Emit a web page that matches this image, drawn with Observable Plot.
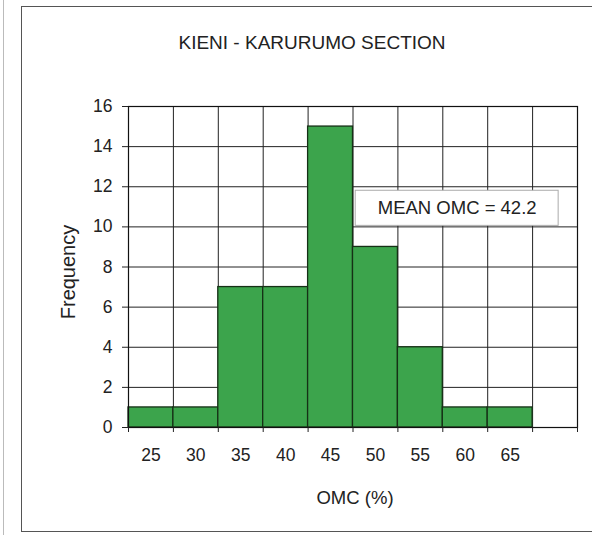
<!DOCTYPE html>
<html>
<head>
<meta charset="utf-8">
<script src="https://cdn.jsdelivr.net/npm/d3@7"></script>
<script src="https://cdn.jsdelivr.net/npm/@observablehq/plot@0.6"></script>
<style>
  html, body { margin: 0; padding: 0; background: white; }
  #wrap { position: relative; width: 592px; height: 535px; overflow: hidden; background: white; }
  #outer { position: absolute; left: 21px; top: 6px; width: 640px; height: 526px; border: 1.5px solid #555; box-sizing: border-box; pointer-events: none; }
  #edge { position: absolute; left: 3px; top: 0; width: 1px; height: 535px; background: #bbb; }
</style>
</head>
<body>
<div id="wrap"><div id="edge"></div><div id="outer"></div></div>
<script>
// Data
const binCenters = [25, 30, 35, 40, 45, 50, 55, 60, 65];
const frequencies = [1, 1, 7, 7, 15, 9, 4, 1, 1];
const binWidth = 5;
const binEdges = [22.5, 27.5, 32.5, 37.5, 42.5, 47.5, 52.5, 57.5, 62.5, 67.5, 72.5];
const yTicks = [0, 2, 4, 6, 8, 10, 12, 14, 16];
const xTickLabels = [25, 30, 35, 40, 45, 50, 55, 60, 65];
const meanOMC = 42.2;
const titleText = "KIENI - KARURUMO SECTION";
const xLabel = "OMC (%)";
const yLabel = "Frequency";

const bins = binCenters.map((c, i) => ({x1: c - binWidth / 2, x2: c + binWidth / 2, count: frequencies[i]}));

// annotation box (data coordinates)
const box = [{x1: 47.8, x2: 70.4, y1: 10.05, y2: 11.8}];
const boxLabel = [{x: 59.1, y: 10.92, text: `MEAN OMC = ${meanOMC}`}];

const font = "'Liberation Sans', Arial, Helvetica, sans-serif";

const chart = Plot.plot({
  width: 592,
  height: 535,
  marginLeft: 128,
  marginRight: 15,
  marginTop: 106,
  marginBottom: 108,
  style: {fontFamily: font, fontSize: "17px", color: "#222", background: "transparent", overflow: "visible"},
  x: {domain: [22.5, 72.5], label: null},
  y: {domain: [0, 16], label: null},
  marks: [
    Plot.gridY(yTicks, {stroke: "#222", strokeOpacity: 1, strokeWidth: 1}),
    Plot.gridX(binEdges, {stroke: "#222", strokeOpacity: 1, strokeWidth: 1}),
    Plot.rect(bins, {x1: "x1", x2: "x2", y1: 0, y2: "count", fill: "#3ca44c", stroke: "#163016", strokeWidth: 1.3}),
    Plot.frame({stroke: "#111", strokeWidth: 1.2}),
    Plot.axisY({ticks: yTicks, tickSize: 6, tickPadding: 10, fontSize: 17.5, stroke: "#222", label: null}),
    Plot.axisX({ticks: binEdges, tickSize: 5, tickFormat: () => "", stroke: "#222", label: null}),
    Plot.axisX({ticks: xTickLabels, tickSize: 0, tickPadding: 21, fontSize: 17.5, label: null}),
    Plot.rect(box, {x1: "x1", x2: "x2", y1: "y1", y2: "y2", fill: "white", stroke: "#aaa", strokeWidth: 1}),
    Plot.text(boxLabel, {x: "x", y: "y", text: "text", fontSize: 18.5, fill: "#222", textAnchor: "middle"}),
    Plot.text([titleText], {frameAnchor: "top", dx: -41, dy: -58, lineAnchor: "bottom", fontSize: 19, fill: "#222"}),
    Plot.text([xLabel], {frameAnchor: "bottom", dx: 2, dy: 76, lineAnchor: "bottom", fontSize: 18.5, fill: "#222"}),
    Plot.text([yLabel], {frameAnchor: "left", textAnchor: "middle", rotate: -90, dx: -54, dy: 5, lineAnchor: "bottom", fontSize: 20, fill: "#222"})
  ]
});
chart.style.position = "absolute";
chart.style.left = "0px";
chart.style.top = "0px";
document.getElementById("wrap").appendChild(chart);
</script>
</body>
</html>
